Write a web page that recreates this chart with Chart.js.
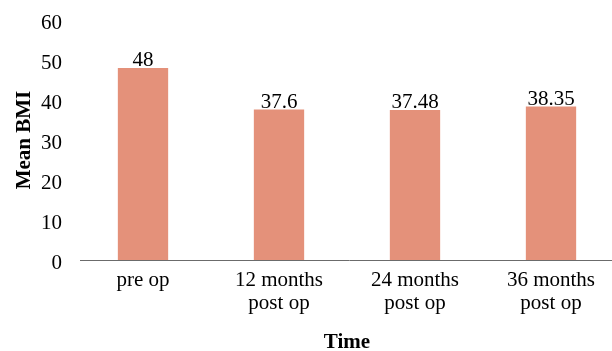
<!DOCTYPE html>
<html>
<head>
<meta charset="utf-8">
<script src="https://cdn.jsdelivr.net/npm/chart.js@4/dist/chart.umd.min.js"></script>
<style>
  html, body { margin: 0; padding: 0; background: #fff; overflow: hidden; }
  #wrap { width: 624px; height: 351px; }
</style>
</head>
<body>
<div id="wrap"><canvas id="c" width="624" height="351"></canvas></div>
<script>
// Mean BMI at each follow-up time
const categories = [["pre op"], ["12 months", "post op"], ["24 months", "post op"], ["36 months", "post op"]];
const meanBMI = [48, 37.6, 37.48, 38.35];
const yTicks = [0, 10, 20, 30, 40, 50, 60];

const FONT = "'Liberation Serif', 'Times New Roman', serif";
const BAR_COLOR = "#E4917A";
const AXIS_COLOR = "#6b6b6b";

// Horizontal category axis line at zero, inset slightly from the plot's left edge
const baseLine = {
  id: "baseLine",
  beforeDatasetsDraw(chart) {
    const { ctx, chartArea, scales } = chart;
    const y = Math.round(scales.y.getPixelForValue(0)) + 0.5;
    ctx.save();
    ctx.strokeStyle = AXIS_COLOR;
    ctx.lineWidth = 1;
    ctx.beginPath();
    ctx.moveTo(chartArea.left + 5, y);
    ctx.lineTo(chartArea.right, y);
    ctx.stroke();
    ctx.restore();
  }
};

// Writes each bar's value just above its top
const valueLabels = {
  id: "valueLabels",
  afterDatasetsDraw(chart) {
    const ctx = chart.ctx;
    const meta = chart.getDatasetMeta(0);
    ctx.save();
    ctx.font = "21px " + FONT;
    ctx.fillStyle = "#000";
    ctx.textAlign = "center";
    ctx.textBaseline = "alphabetic";
    meta.data.forEach((bar, i) => {
      ctx.fillText(String(meanBMI[i]), bar.x, bar.y - 2);
    });
    ctx.restore();
  }
};

new Chart(document.getElementById("c"), {
  type: "bar",
  data: {
    labels: categories,
    datasets: [{
      data: meanBMI,
      backgroundColor: BAR_COLOR,
      borderWidth: 0,
      barPercentage: 0.74,
      categoryPercentage: 0.5
    }]
  },
  options: {
    responsive: false,
    animation: false,
    devicePixelRatio: 1,
    layout: { padding: { top: 20, right: 5, left: 0, bottom: 0 } },
    plugins: {
      legend: { display: false },
      tooltip: { enabled: false }
    },
    scales: {
      x: {
        grid: { display: false, drawTicks: false },
        border: { display: false },
        ticks: {
          color: "#000",
          font: { family: FONT, size: 21, lineHeight: 1.1 },
          padding: 9,
          maxRotation: 0,
          autoSkip: false
        },
        title: {
          display: true,
          text: "Time",
          color: "#000",
          font: { family: FONT, size: 21, weight: "bold", lineHeight: 0.76 },
          padding: 0
        },
        afterFit(scale) {
          scale.height = 91;
          scale.paddingLeft = 0;
          scale.paddingRight = 0;
        }
      },
      y: {
        min: yTicks[0],
        max: yTicks[yTicks.length - 1],
        afterBuildTicks(scale) { scale.ticks = yTicks.map(v => ({ value: v })); },
        grid: { display: false, drawTicks: false },
        border: { display: false },
        ticks: {
          color: "#000",
          font: { family: FONT, size: 21 },
          padding: 13,
          labelOffset: 3
        },
        title: {
          display: true,
          text: "Mean BMI",
          color: "#000",
          font: { family: FONT, size: 21, weight: "bold" },
          padding: { top: 12, bottom: 0 }
        },
        afterFit(scale) {
          scale.width = 75;
          scale.paddingTop = 0;
          scale.paddingBottom = 0;
        }
      }
    }
  },
  plugins: [baseLine, valueLabels]
});
</script>
</body>
</html>
